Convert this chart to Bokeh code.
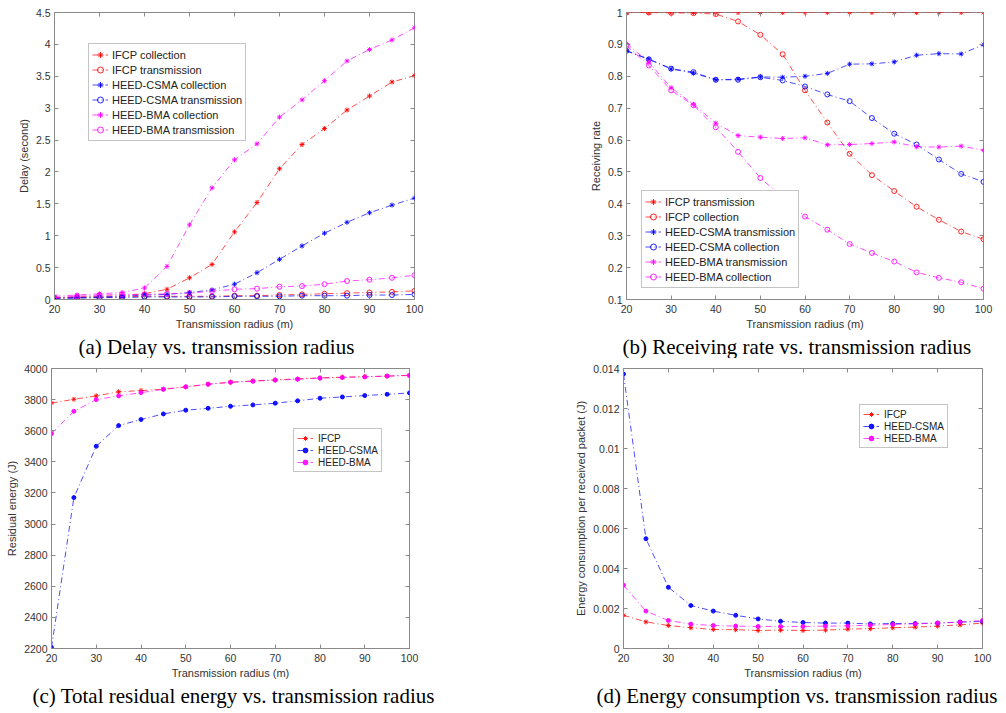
from bokeh.plotting import figure
from bokeh.models import Range1d, FixedTicker, Legend, LegendItem, Title, LinearAxis
from bokeh.layouts import column, row
from bokeh.embed import file_html
from bokeh.resources import INLINE

# ---------------- data ----------------
radius = [20, 25, 30, 35, 40, 45, 50, 55, 60, 65, 70, 75, 80, 85, 90, 95, 100]

# (a) delay (second)
ifcp_col_delay = [0.03, 0.04, 0.05, 0.06, 0.09, 0.16, 0.34, 0.55, 1.06, 1.52, 2.05, 2.43, 2.68, 2.97, 3.19, 3.41, 3.51]
ifcp_tx_delay = [0.02, 0.03, 0.03, 0.04, 0.05, 0.05, 0.05, 0.05, 0.06, 0.06, 0.07, 0.08, 0.09, 0.10, 0.11, 0.12, 0.135]
csma_col_delay = [0.02, 0.03, 0.04, 0.05, 0.07, 0.08, 0.11, 0.15, 0.24, 0.42, 0.63, 0.84, 1.04, 1.21, 1.36, 1.48, 1.59]
csma_tx_delay = [0.02, 0.02, 0.03, 0.03, 0.04, 0.04, 0.04, 0.04, 0.05, 0.05, 0.05, 0.06, 0.06, 0.06, 0.07, 0.07, 0.08]
bma_col_delay = [0.05, 0.07, 0.09, 0.11, 0.18, 0.52, 1.17, 1.75, 2.19, 2.44, 2.86, 3.13, 3.43, 3.74, 3.92, 4.07, 4.26]
bma_tx_delay = [0.03, 0.05, 0.07, 0.08, 0.08, 0.09, 0.10, 0.13, 0.16, 0.17, 0.20, 0.21, 0.24, 0.29, 0.31, 0.34, 0.38]

# (b) receiving rate
ifcp_tx_rate = [1.0, 1.0, 1.0, 1.0, 1.0, 1.0, 1.0, 1.0, 1.0, 1.0, 1.0, 1.0, 1.0, 1.0, 1.0, 1.0, 1.0]
ifcp_col_rate = [1.0, 1.0, 0.999, 0.998, 0.995, 0.972, 0.93, 0.869, 0.756, 0.655, 0.557, 0.49, 0.44, 0.391, 0.35, 0.313, 0.289]
csma_tx_rate = [0.88, 0.854, 0.823, 0.81, 0.789, 0.791, 0.798, 0.797, 0.8, 0.809, 0.838, 0.839, 0.845, 0.866, 0.871, 0.87, 0.899]
csma_col_rate = [0.88, 0.853, 0.824, 0.813, 0.789, 0.789, 0.797, 0.787, 0.768, 0.743, 0.722, 0.669, 0.62, 0.586, 0.539, 0.494, 0.469]
bma_tx_rate = [0.903, 0.844, 0.764, 0.712, 0.653, 0.614, 0.609, 0.605, 0.607, 0.585, 0.586, 0.589, 0.594, 0.579, 0.578, 0.581, 0.568]
bma_col_rate = [0.896, 0.834, 0.756, 0.709, 0.64, 0.563, 0.481, 0.42, 0.36, 0.319, 0.274, 0.246, 0.219, 0.185, 0.168, 0.154, 0.134]

# (c) total residual energy (J)
ifcp_energy = [3778, 3802, 3824, 3850, 3858, 3867, 3882, 3899, 3912, 3920, 3927, 3933, 3940, 3944, 3948, 3951, 3957]
csma_energy = [2206, 3170, 3500, 3633, 3672, 3708, 3732, 3744, 3757, 3766, 3777, 3792, 3809, 3817, 3826, 3834, 3843]
bma_energy = [3582, 3725, 3800, 3824, 3845, 3866, 3882, 3899, 3911, 3918, 3925, 3931, 3938, 3942, 3946, 3951, 3955]

# (d) energy consumption per received packet (J)
ifcp_epp = [0.00166, 0.00133, 0.00115, 0.00104, 0.00095, 0.00094, 0.0009, 0.00092, 0.0009, 0.00092, 0.00097, 0.00099, 0.00104, 0.00107, 0.00112, 0.00118, 0.00127]
csma_epp = [0.01372, 0.00549, 0.00306, 0.00215, 0.00187, 0.00166, 0.00148, 0.00136, 0.0013, 0.00127, 0.00127, 0.00123, 0.00125, 0.00125, 0.00127, 0.00132, 0.00135]
bma_epp = [0.00316, 0.00187, 0.0014, 0.00122, 0.00115, 0.00112, 0.0011, 0.0011, 0.0011, 0.00112, 0.00113, 0.00117, 0.0012, 0.00123, 0.00127, 0.00132, 0.0014]

# ticks
x_ticks = [20, 30, 40, 50, 60, 70, 80, 90, 100]
x_tick_labels = ["20", "30", "40", "50", "60", "70", "80", "90", "100"]
a_ticks = [0, 0.5, 1, 1.5, 2, 2.5, 3, 3.5, 4, 4.5]
a_tick_labels = ["0", "0.5", "1", "1.5", "2", "2.5", "3", "3.5", "4", "4.5"]
b_ticks = [0.1, 0.2, 0.3, 0.4, 0.5, 0.6, 0.7, 0.8, 0.9, 1]
b_tick_labels = ["0.1", "0.2", "0.3", "0.4", "0.5", "0.6", "0.7", "0.8", "0.9", "1"]
c_ticks = [2200, 2400, 2600, 2800, 3000, 3200, 3400, 3600, 3800, 4000]
c_tick_labels = ["2200", "2400", "2600", "2800", "3000", "3200", "3400", "3600", "3800", "4000"]
d_ticks = [0, 0.002, 0.004, 0.006, 0.008, 0.01, 0.012, 0.014]
d_tick_labels = ["0", "0.002", "0.004", "0.006", "0.008", "0.01", "0.012", "0.014"]

RED = "#ff0000"
BLUE = "#0000ff"
MAG = "#ff00ff"
SANS = "Liberation Sans"
SERIF = "Liberation Serif"
GRAY = "#8a8a8a"
DASH = "6 3 1 3"


def mirror_axis(ticks):
    return LinearAxis(ticker=FixedTicker(ticks=ticks),
                      major_label_overrides={t: "" for t in ticks},
                      major_label_text_font_size="1px", major_label_standoff=0,
                      major_tick_in=4, major_tick_out=0, major_tick_line_color=GRAY,
                      minor_tick_line_color=None, axis_line_color=None)


def make_fig(w, h, left, right, top, bottom, yr, yticks, ylabels, ylabel):
    p = figure(width=w, height=h, output_backend="svg", toolbar_location=None,
               x_range=Range1d(20, 100), y_range=Range1d(yr[0], yr[1]),
               min_border_left=left, min_border_right=right,
               min_border_top=top, min_border_bottom=bottom)
    p.grid.visible = False
    p.outline_line_color = GRAY
    p.outline_line_width = 1
    p.background_fill_color = "white"
    p.border_fill_color = "white"
    p.xaxis.ticker = FixedTicker(ticks=x_ticks)
    p.xaxis.major_label_overrides = {t: l for t, l in zip(x_ticks, x_tick_labels)}
    p.yaxis.ticker = FixedTicker(ticks=yticks)
    p.yaxis.major_label_overrides = {t: l for t, l in zip(yticks, ylabels)}
    p.xaxis.axis_label = "Transmission radius (m)"
    p.yaxis.axis_label = ylabel
    for ax in (p.xaxis[0], p.yaxis[0]):
        ax.axis_line_color = GRAY
        ax.major_tick_line_color = GRAY
        ax.major_tick_in = 4
        ax.major_tick_out = 0
        ax.minor_tick_line_color = None
        ax.major_label_text_font = SANS
        ax.major_label_text_font_size = "10.5px"
        ax.major_label_text_color = "#333333"
        ax.axis_label_text_font = SANS
        ax.axis_label_text_font_size = "11px"
        ax.axis_label_text_font_style = "normal"
        ax.axis_label_text_color = "#333333"
    p.xaxis.major_label_standoff = 5
    p.xaxis.axis_label_standoff = 2
    p.yaxis.major_label_standoff = 4
    p.yaxis.axis_label_standoff = 3
    p.add_layout(mirror_axis(x_ticks), "above")
    p.add_layout(mirror_axis(yticks), "right")
    return p


def series(p, y, color, marker, size=5, fill=False):
    ln = p.line(radius, y, line_color=color, line_width=1, line_dash=DASH, line_alpha=0.7)
    if marker == "circle" and not fill:
        sc = p.scatter(radius, y, marker="circle", size=size, line_color=color,
                       fill_color=None, line_alpha=0.85, line_width=1)
    else:
        sc = p.scatter(radius, y, marker=marker, size=size, line_color=color,
                       fill_color=color, line_alpha=0.9, fill_alpha=0.9, line_width=1)
    return [ln, sc]


def add_legend(p, items, loc, font_size, row_h, glyph_w, standoff):
    leg = Legend(items=[LegendItem(label=l, renderers=r) for l, r in items],
                 location=loc, margin=0, padding=3, spacing=0,
                 glyph_width=glyph_w, glyph_height=row_h, label_height=row_h,
                 label_standoff=standoff,
                 label_text_font=SANS, label_text_font_size=font_size,
                 label_text_color="#222222",
                 border_line_color=GRAY, border_line_width=1,
                 background_fill_color="white", background_fill_alpha=1)
    p.add_layout(leg)


def caption(p, text, offset):
    p.add_layout(Title(text=text, align="left", offset=offset, standoff=0,
                       text_font=SERIF, text_font_size="21px", text_color="black",
                       text_font_style="normal"), "below")


# ---------------- (a) ----------------
pa = make_fig(503, 358, 54, 89, 12, 57, (0, 4.5), a_ticks, a_tick_labels, "Delay (second)")
ra1 = series(pa, ifcp_col_delay, RED, "asterisk")
ra2 = series(pa, ifcp_tx_delay, RED, "circle")
ra3 = series(pa, csma_col_delay, BLUE, "asterisk")
ra4 = series(pa, csma_tx_delay, BLUE, "circle")
ra5 = series(pa, bma_col_delay, MAG, "asterisk")
ra6 = series(pa, bma_tx_delay, MAG, "circle")
add_legend(pa, [("IFCP collection", ra1), ("IFCP transmission", ra2),
                ("HEED-CSMA collection", ra3), ("HEED-CSMA transmission", ra4),
                ("HEED-BMA collection", ra5), ("HEED-BMA transmission", ra6)],
           (34, 158), "11px", 15, 16, 4)
caption(pa, "(a) Delay vs. transmission radius", 24)

# ---------------- (b) ----------------
pb = make_fig(503, 358, 123, 23, 12, 58, (0.1, 1.0), b_ticks, b_tick_labels, "Receiving rate")
rb1 = series(pb, ifcp_tx_rate, RED, "asterisk")
rb2 = series(pb, ifcp_col_rate, RED, "circle")
rb3 = series(pb, csma_tx_rate, BLUE, "asterisk")
rb4 = series(pb, csma_col_rate, BLUE, "circle")
rb5 = series(pb, bma_tx_rate, MAG, "asterisk")
rb6 = series(pb, bma_col_rate, MAG, "circle")
add_legend(pb, [("IFCP transmission", rb1), ("IFCP collection", rb2),
                ("HEED-CSMA transmission", rb3), ("HEED-CSMA collection", rb4),
                ("HEED-BMA transmission", rb5), ("HEED-BMA collection", rb6)],
           (15, 11), "11px", 15, 16, 4)
caption(pb, "(b) Receiving rate vs. transmission radius", -4)

# ---------------- (c) ----------------
pc = make_fig(503, 355, 51, 94, 10, 65, (2200, 4000), c_ticks, c_tick_labels, "Residual energy (J)")
rc1 = series(pc, ifcp_energy, RED, "asterisk", size=5)
rc2 = series(pc, csma_energy, BLUE, "circle", size=4, fill=True)
rc3 = series(pc, bma_energy, MAG, "circle", size=4, fill=True)
add_legend(pc, [("IFCP", rc1), ("HEED-CSMA", rc2), ("HEED-BMA", rc3)],
           (242, 176), "10px", 12, 16, 5)
caption(pc, "(c) Total residual energy vs. transmission radius", -19)

# ---------------- (d) ----------------
pd_ = make_fig(503, 355, 120, 24, 9, 62, (0, 0.014), d_ticks, d_tick_labels,
               "Energy consumption per received packet (J)")
rd1 = series(pd_, ifcp_epp, RED, "asterisk", size=5)
rd2 = series(pd_, csma_epp, BLUE, "circle", size=4, fill=True)
rd3 = series(pd_, bma_epp, MAG, "circle", size=4, fill=True)
add_legend(pd_, [("IFCP", rd1), ("HEED-CSMA", rd2), ("HEED-BMA", rd3)],
           (236, 200), "10px", 12, 16, 5)
caption(pd_, "(d) Energy consumption vs. transmission radius", -27)

layout = column(row(pa, pb), row(pc, pd_))
open("out.html", "w").write(file_html(layout, INLINE))
